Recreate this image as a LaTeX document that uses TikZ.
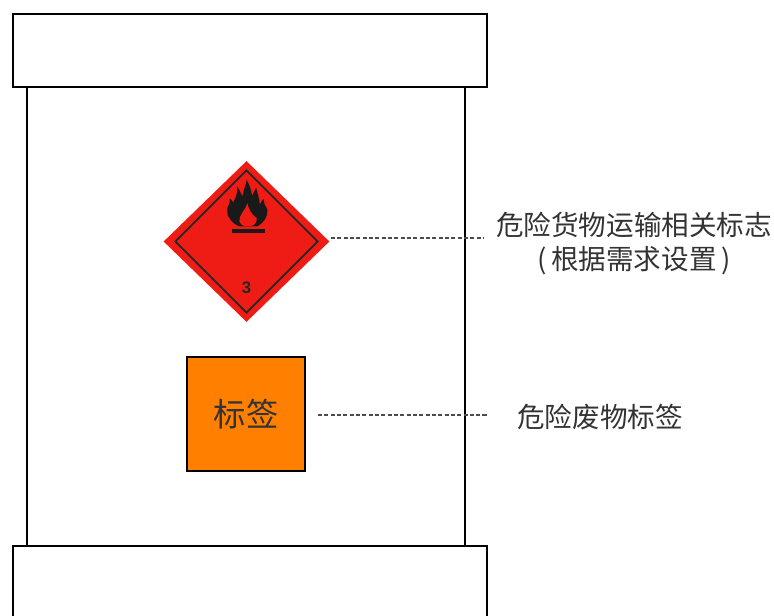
\documentclass[tikz,border=0pt]{standalone}
\usepackage{fontspec}
\usepackage{color}
\usepackage{tikz}
\usetikzlibrary{shapes.geometric}
\setmainfont{Liberation Sans}
\newfontfamily\cjk{Noto Sans CJK SC}
\definecolor{signred}{RGB}{238,28,20}
\definecolor{labelorange}{RGB}{255,128,0}
\tikzset{
  drum/.style={draw,rectangle,line width=0.05cm,fill=white,inner sep=0pt},
  leader/.style={line width=0.025cm,black!70,dash pattern=on 2.3pt off 1.3pt},
  caption/.style={font=\cjk\fontsize{15.7pt}{19.3pt}\selectfont,text=black!80,align=center,inner sep=0pt}
}

\begin{document}
\begin{tikzpicture}
\path[use as bounding box,clip] (0,0) rectangle (15.48,-12.3);

\node[xshift=4.92cm,yshift=-6.33cm,drum,minimum width=8.76cm,minimum height=9.18cm] (body) {};
\node[xshift=5cm,yshift=-1.01cm,drum,minimum width=9.48cm,minimum height=1.46cm] (lid) {};
\node[xshift=5cm,yshift=-11.72cm,drum,minimum width=9.48cm,minimum height=1.6cm] (base) {};

\node[xshift=4.93cm,yshift=-4.83cm,diamond,fill=signred,inner sep=0pt,minimum width=3.32cm,minimum height=3.22cm] (sign) {};
\node[xshift=4.93cm,yshift=-4.83cm,diamond,draw=black!85,line width=0.035cm,inner sep=0pt,minimum width=2.86cm,minimum height=2.86cm] (signin) {};

% flame, coordinates in 1/3 px
\begin{scope}[shift={(3cm,-3cm)},x=0.00667cm,y=-0.00667cm]
\fill[black!90,rounded corners=0.4pt] (290,90) .. controls (286,110) and (280,122) .. (277,140)
  .. controls (272,128) and (268,118) .. (261,108) .. controls (264,130) and (256,145) .. (249,158)
  .. controls (246,150) and (243,148) .. (238,145) .. controls (243,158) and (232,168) .. (231,180)
  .. controls (232,205) and (250,222) .. (268,229) -- (322,229)
  .. controls (342,218) and (354,198) .. (352,178) .. controls (345,168) and (342,160) .. (341,146)
  .. controls (336,152) and (332,158) .. (329,164) .. controls (328,145) and (322,128) .. (318,112)
  .. controls (315,122) and (310,130) .. (306,138) .. controls (304,120) and (298,104) .. (290,90) -- cycle;
\fill[signred] (292,160) .. controls (288,178) and (266,195) .. (268,214)
  .. controls (270,222) and (276,226) .. (282,228) -- (306,228)
  .. controls (316,222) and (322,214) .. (320,204) .. controls (306,196) and (296,178) .. (292,160) -- cycle;
\fill[black!90] (247,238) rectangle (345,248);
\end{scope}
\node[xshift=4.93cm,yshift=-5.76cm,inner sep=0pt,font=\bfseries\fontsize{9.5pt}{10pt}\selectfont,text=black!85] (signnum) {3};

\node[xshift=4.92cm,yshift=-8.28cm,draw,rectangle,line width=0.05cm,fill=labelorange,inner sep=0pt,minimum width=2.36cm,minimum height=2.28cm,font=\cjk\fontsize{18.4pt}{20pt}\selectfont,text=black!80] (tag) {标签};

\node[xshift=12.68cm,yshift=-4.87cm,caption] (signtext) {危险货物运输相关标志\\(\,根据需求设置\,)};
\node[xshift=12cm,yshift=-8.34cm,caption] (tagtext) {危险废物标签};

\coordinate[xshift=6.62cm,yshift=-4.76cm] (signa);
\coordinate[xshift=9.68cm,yshift=-4.76cm] (signb);
\coordinate[xshift=6.36cm,yshift=-8.3cm] (taga);
\coordinate[xshift=9.74cm,yshift=-8.3cm] (tagb);
\draw[leader] (signa) -- (signb);
\draw[leader] (taga) -- (tagb);
\end{tikzpicture}
\end{document}
